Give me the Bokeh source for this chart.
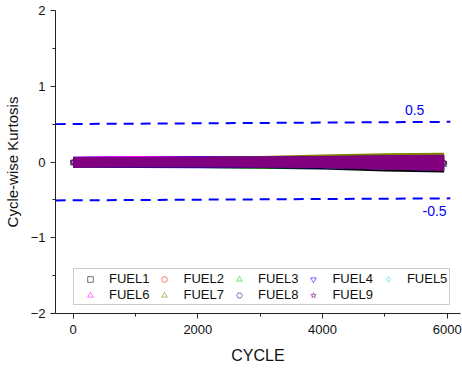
import numpy as np
from bokeh.plotting import figure
from bokeh.models import Range1d, FixedTicker, Legend, LegendItem, Label, ColumnDataSource
from bokeh.embed import file_html
from bokeh.resources import INLINE

# ---- data ----
fuels = ["FUEL1", "FUEL2", "FUEL3", "FUEL4", "FUEL5", "FUEL6", "FUEL7", "FUEL8", "FUEL9"]
colors = ["#000000", "#ff0000", "#00c800", "#0000ff", "#00e0e0", "#ff00ff", "#808000", "#000080", "#800080"]
markers = ["square", "circle", "triangle", "inverted_triangle", "diamond", "triangle", "triangle", "hex", "star"]
angles = [0, 0, 0, 0, 0, np.pi / 2, -np.pi / 2, 0, 0]

cycles = [0, 1000, 2000, 3000, 4000, 5000, 5950]
upper = {
    "FUEL1": [0.060, 0.060, 0.060, 0.065, 0.070, 0.080, 0.085],
    "FUEL2": [0.060, 0.060, 0.062, 0.065, 0.070, 0.080, 0.085],
    "FUEL3": [0.060, 0.062, 0.065, 0.068, 0.072, 0.082, 0.088],
    "FUEL4": [0.070, 0.078, 0.080, 0.078, 0.080, 0.085, 0.090],
    "FUEL5": [0.060, 0.060, 0.062, 0.065, 0.070, 0.080, 0.085],
    "FUEL6": [0.068, 0.080, 0.072, 0.070, 0.075, 0.085, 0.090],
    "FUEL7": [0.060, 0.060, 0.065, 0.078, 0.100, 0.115, 0.122],
    "FUEL8": [0.062, 0.065, 0.068, 0.070, 0.075, 0.085, 0.090],
    "FUEL9": [0.065, 0.065, 0.070, 0.075, 0.080, 0.090, 0.095],
}
lower = {
    "FUEL1": [-0.075, -0.075, -0.078, -0.088, -0.098, -0.125, -0.140],
    "FUEL2": [-0.070, -0.070, -0.070, -0.072, -0.078, -0.095, -0.110],
    "FUEL3": [-0.070, -0.072, -0.078, -0.085, -0.080, -0.098, -0.112],
    "FUEL4": [-0.072, -0.080, -0.082, -0.078, -0.082, -0.100, -0.115],
    "FUEL5": [-0.070, -0.070, -0.070, -0.072, -0.078, -0.095, -0.110],
    "FUEL6": [-0.070, -0.072, -0.072, -0.075, -0.080, -0.098, -0.112],
    "FUEL7": [-0.070, -0.070, -0.070, -0.075, -0.080, -0.098, -0.115],
    "FUEL8": [-0.072, -0.075, -0.075, -0.078, -0.082, -0.100, -0.118],
    "FUEL9": [-0.075, -0.070, -0.070, -0.075, -0.080, -0.100, -0.120],
}

ref_x = [-280, 6050]
ref_upper = [0.500, 0.530]
ref_lower = [-0.507, -0.480]

x_ticks = [0, 2000, 4000, 6000]
x_minor = [1000, 3000, 5000]
y_ticks = [-2, -1, 0, 1, 2]
y_minor = [-1.5, -0.5, 0.5, 1.5]

FONT = "Liberation Sans"

p = figure(width=462, height=369, output_backend="svg", toolbar_location=None,
           x_range=Range1d(-283, 6213), y_range=Range1d(-2, 2),
           min_border_left=54, min_border_right=2, min_border_top=10, min_border_bottom=56)
p.outline_line_color = None
p.grid.visible = False
p.background_fill_color = "white"
p.border_fill_color = "white"

# markers (legend renderers)
scat = []
for i, f in enumerate(fuels):
    mid = [(a + b) / 2 for a, b in zip(upper[f], lower[f])]
    r = p.scatter(cycles, mid, marker=markers[i], angle=angles[i], size=5,
                  fill_color=None, line_color=colors[i], line_alpha=0.55, line_width=1)
    scat.append(r)

# dense bands of cycle-wise points
for i, f in enumerate(fuels):
    src = ColumnDataSource(dict(x=cycles, y1=lower[f], y2=upper[f]))
    p.varea(x="x", y1="y1", y2="y2", source=src, fill_color=colors[i], fill_alpha=1.0)

# reference lines
p.line(ref_x, ref_upper, line_color="#0000ff", line_width=2, line_dash="10 7")
p.line(ref_x, ref_lower, line_color="#0000ff", line_width=2, line_dash="10 7")
p.add_layout(Label(x=5477, y=0.69, text="0.5", text_color="#0000ff", text_font=FONT,
                   text_font_size="14px", text_align="center", text_baseline="middle"))
p.add_layout(Label(x=5797, y=-0.645, text="-0.5", text_color="#0000ff", text_font=FONT,
                   text_font_size="14px", text_align="center", text_baseline="middle"))

# axes
p.xaxis.ticker = FixedTicker(ticks=x_ticks, minor_ticks=x_minor)
p.yaxis.ticker = FixedTicker(ticks=y_ticks, minor_ticks=y_minor)
for ax in (p.xaxis[0], p.yaxis[0]):
    ax.axis_line_color = "#222222"
    ax.major_tick_line_color = "#222222"
    ax.minor_tick_line_color = "#222222"
    ax.major_tick_out = 5
    ax.major_tick_in = 0
    ax.minor_tick_out = 3
    ax.minor_tick_in = 0
    ax.major_label_text_font = FONT
    ax.major_label_text_font_size = "13px"
    ax.major_label_text_color = "#111111"
    ax.axis_label_text_font = FONT
    ax.axis_label_text_font_style = "normal"
    ax.axis_label_text_color = "#111111"
p.xaxis.axis_label_text_font_size = "16px"
p.yaxis.axis_label_text_font_size = "15px"
p.xaxis.axis_label = "CYCLE"
p.yaxis.axis_label = "Cycle-wise Kurtosis"
p.xaxis.major_label_standoff = 6
p.yaxis.major_label_standoff = 5
p.xaxis.axis_label_standoff = 10
p.yaxis.axis_label_standoff = 7

legend = Legend(items=[LegendItem(label=f, renderers=[r]) for f, r in zip(fuels, scat)],
                location=(18, 8), orientation="horizontal", ncols=5,
                padding=2, margin=0, spacing=1,
                glyph_width=28, glyph_height=14, label_height=14, label_width=36,
                label_standoff=5, label_text_font=FONT, label_text_font_size="13px",
                label_text_color="#111111",
                border_line_color="#999999", border_line_width=1,
                background_fill_color="white", background_fill_alpha=1.0)
p.add_layout(legend, "center")

open("out.html", "w").write(file_html(p, INLINE))
